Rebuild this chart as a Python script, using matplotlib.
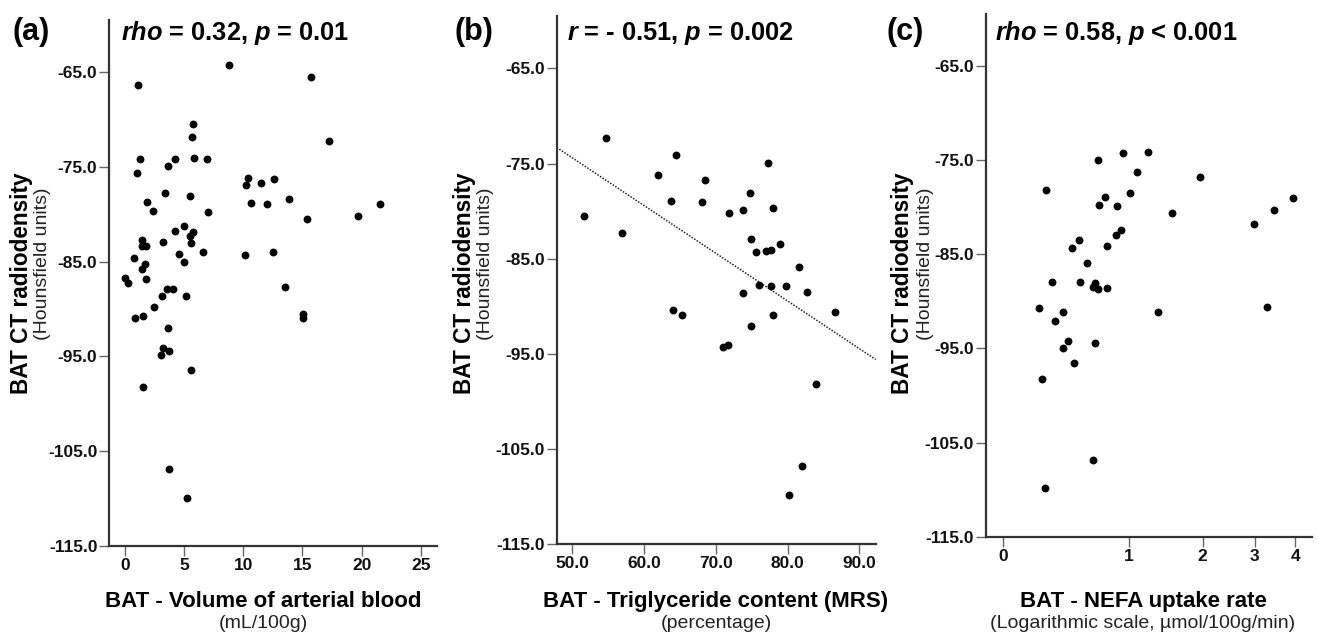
import numpy as np
import matplotlib.pyplot as plt

plt.rcParams['font.family'] = ['Liberation Sans', 'DejaVu Sans']
plt.rcParams['mathtext.fontset'] = 'custom'
plt.rcParams['mathtext.bf'] = 'Liberation Sans:bold'
plt.rcParams['mathtext.bfit'] = 'Liberation Sans:italic:bold'
plt.rcParams['mathtext.it'] = 'Liberation Sans:italic:bold'

# (a) arterial blood volume vs radiodensity
a_x = [8.76, 15.69, 1.10, 5.72, 5.69, 17.27, 1.24, 4.20, 5.86, 6.96, 3.61, 1.01, 10.42, 10.20,
       11.52, 12.56, 3.38, 5.52, 1.86, 10.68, 11.97, 13.86, 21.52, 2.37, 7.01, 15.41, 19.72,
       4.96, 4.25, 5.72, 5.46, 5.61, 1.46, 1.46, 1.77, 3.21, 4.54, 6.59, 10.14, 12.48, 0.79,
       4.96, 1.66, 1.41, 1.77, 0.00, 0.25, 3.52, 4.08, 13.52, 3.15, 5.18, 2.42, 15.01, 0.82,
       1.55, 15.01, 3.63, 3.18, 3.69, 3.01, 5.55, 1.55, 3.69, 5.21]
a_y = [-64.3, -65.5, -66.4, -70.5, -71.8, -72.3, -74.2, -74.2, -74.1, -74.2, -74.9, -75.7,
       -76.2, -76.9, -76.7, -76.3, -77.8, -78.1, -78.7, -78.8, -78.9, -78.4, -78.9, -79.7,
       -79.8, -80.5, -80.2, -81.3, -81.8, -81.9, -82.3, -83.0, -82.7, -83.4, -83.4, -82.9,
       -84.2, -84.0, -84.3, -84.0, -84.6, -85.1, -85.3, -85.8, -86.8, -86.7, -87.3, -87.9,
       -87.9, -87.7, -88.6, -88.6, -89.8, -90.5, -91.0, -90.7, -91.0, -92.0, -94.15, -94.4,
       -94.9, -96.5, -98.25, -106.9, -110.0]

# (b) triglyceride content vs radiodensity
b_x = [54.69, 64.52, 77.29, 61.97, 68.52, 74.73, 63.74, 68.14, 77.98, 71.81, 73.85, 51.62,
       56.87, 74.87, 75.57, 76.96, 77.75, 78.96, 81.60, 76.03, 77.75, 79.74, 73.76, 82.67,
       64.06, 65.31, 77.98, 86.61, 74.87, 71.07, 71.67, 83.97, 81.97, 80.21]
b_y = [-72.33, -74.14, -74.98, -76.24, -76.69, -78.09, -78.89, -79.0, -79.69, -80.18, -79.83,
       -80.53, -82.31, -82.91, -84.27, -84.16, -84.06, -83.43, -85.84, -87.76, -87.86, -87.86,
       -88.60, -88.53, -90.41, -90.86, -90.90, -90.58, -92.03, -94.3, -94.09, -98.15,
       -106.78, -109.83]
# trend line as drawn in the figure (intercept at x=0, slope)
b_fit = (-49.35, -0.501)

# (c) NEFA uptake vs radiodensity
c_x = [0.94, 1.22, 0.69, 1.09, 1.95, 0.27, 1.01, 0.75, 3.93, 0.70, 0.87, 3.44, 1.54, 2.98,
       0.92, 0.86, 0.52, 0.46, 0.77, 0.59, 0.31, 0.53, 0.66, 0.64, 0.69, 0.77, 3.27, 0.22,
       0.39, 1.35, 0.33, 0.43, 0.39, 0.66, 0.48, 0.24, 0.64, 0.26]
c_y = [-74.27, -74.20, -75.05, -76.30, -76.76, -78.14, -78.53, -78.96, -79.07, -79.74, -79.88,
       -80.31, -80.60, -81.84, -82.41, -83.01, -83.51, -84.36, -84.18, -85.96, -87.91, -87.98,
       -88.09, -88.45, -88.69, -88.62, -90.58, -90.75, -91.11, -91.11, -92.15, -94.23, -95.0,
       -94.44, -96.55, -98.27, -106.88, -109.87]

y_ticks = [-115, -105, -95, -85, -75, -65]
a_ticks = [0, 5, 10, 15, 20, 25]
b_ticks = [50, 60, 70, 80, 90]
c_ticks = [0, 1, 2, 3, 4]

W, H = 1318, 636
fig = plt.figure(figsize=(W / 100, H / 100), dpi=100)


def px_axes(l, r, t, b):
    return fig.add_axes([l / W, 1 - b / H, (r - l) / W, (b - t) / H])


def style(ax):
    for s in ['top', 'right']:
        ax.spines[s].set_visible(False)
    for s in ['left', 'bottom']:
        ax.spines[s].set_linewidth(1.6)
        ax.spines[s].set_color('#333333')
    ax.tick_params(length=7, width=1, color='#666666', labelsize=12.5, pad=1.5,
                   labelcolor='#111111')
    for lab in ax.get_xticklabels() + ax.get_yticklabels():
        lab.set_fontweight('bold')
    ax.set_ylim(-115, -59.5)


panels = [
    dict(box=(109.3, 436.7, 20, 545.7), x=a_x, y=a_y, xlim=(-1.33, 26.35), ticks=a_ticks,
         fmt='{:d}', label='(a)', lab_x=12, title=r'$\mathbfit{rho}$ = 0.32, $\mathbfit{p}$ = 0.01',
         title_x=121, xl='BAT - Volume of arterial blood', xs='(mL/100g)', xl_c=263,
         yl1=22, yl2=43),
    dict(box=(556.7, 875.7, 16, 544.3), x=b_x, y=b_y, xlim=(47.83, 92.29), ticks=b_ticks,
         fmt='{:.1f}', label='(b)', lab_x=455, title=r'$\mathbfit{r}$ = - 0.51, $\mathbfit{p}$ = 0.002',
         title_x=567, xl='BAT - Triglyceride content (MRS)', xs='(percentage)', xl_c=716,
         yl1=465, yl2=486),
    dict(box=(985.7, 1311.7, 14, 536.7), x=c_x, y=c_y, xlim=(-0.09, 4.466), ticks=c_ticks,
         fmt='{:d}', label='(c)', lab_x=887, title=r'$\mathbfit{rho}$ = 0.58, $\mathbfit{p}$ < 0.001',
         title_x=995, xl='BAT - NEFA uptake rate', xs='(Logarithmic scale, µmol/100g/min)',
         xl_c=1143, yl1=903, yl2=926),
]

for i, p in enumerate(panels):
    l, r, t, b = p['box']
    ax = px_axes(l, r, t, b)
    if i == 2:
        ax.set_xscale('function', functions=(np.log1p, np.expm1))
    ax.scatter(p['x'], p['y'], s=32, color='black', linewidths=0, zorder=3)
    if i == 1:
        xx = np.array(p['xlim'])
        ax.plot(xx, b_fit[0] + b_fit[1] * xx, color='#222222', lw=1.1, ls=(0, (1, 1.0)))
    ax.set_xlim(*p['xlim'])
    ax.set_xticks(p['ticks'])
    ax.set_xticklabels([p['fmt'].format(v) for v in p['ticks']])
    ax.set_yticks(y_ticks)
    ax.set_yticklabels(['{:.1f}'.format(v) for v in y_ticks])
    style(ax)

    fig.text(p['lab_x'] / W, 1 - 40 / H, p['label'], fontsize=22, fontweight='bold',
             ha='left', va='baseline')
    fig.text(p['title_x'] / W, 1 - 40 / H, p['title'], fontsize=18.3, fontweight='bold',
             ha='left', va='baseline')
    fig.text(p['xl_c'] / W, 1 - 607 / H, p['xl'], fontsize=16, fontweight='bold',
             ha='center', va='baseline')
    fig.text(p['xl_c'] / W, 1 - 628 / H, p['xs'], fontsize=14, color='#222222',
             ha='center', va='baseline')
    fig.text(p['yl1'] / W, 1 - 283 / H, 'BAT CT radiodensity', fontsize=16.3, fontweight='bold',
             rotation=90, ha='center', va='center')
    fig.text(p['yl2'] / W, 1 - 264 / H, '(Hounsfield units)', fontsize=14, color='#222222',
             rotation=90, ha='center', va='center')

fig.savefig('out.png', dpi=100)
